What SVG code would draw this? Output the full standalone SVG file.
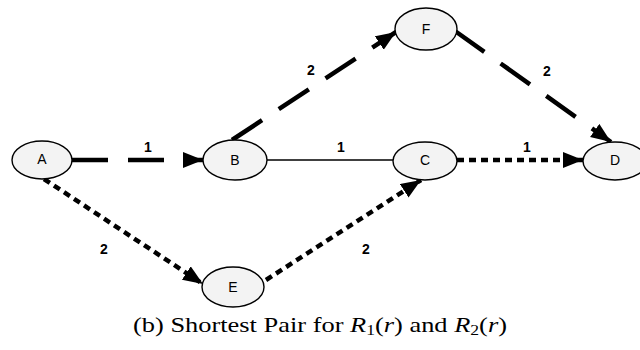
<svg xmlns="http://www.w3.org/2000/svg" width="640" height="350" viewBox="0 0 640 350">
<defs>
<marker id="arr" markerUnits="userSpaceOnUse" markerWidth="22" markerHeight="18" refX="20" refY="8" orient="auto">
<path d="M0,0 L20,8 L0,16 Z" fill="#000"/>
</marker>
<style>
.node ellipse{fill:#f3f3f3;stroke:#000;stroke-width:1.4}
.node text{font-family:"Liberation Sans",Arial,sans-serif;font-size:14px;text-anchor:middle;dominant-baseline:central}
.dash{stroke:#000;stroke-width:4.5;fill:none;stroke-dasharray:36 20;marker-end:url(#arr)}
.dot{stroke:#000;stroke-width:4.5;fill:none;stroke-dasharray:7 5;marker-end:url(#arr)}
.thin{stroke:#000;stroke-width:1.4;fill:none}
.lbl{font-family:"Liberation Sans",Arial,sans-serif;font-size:14px;font-weight:bold;text-anchor:middle}
.cap{font-family:"Liberation Serif","Times New Roman",serif;font-size:21px}
</style>
</defs>
<rect width="640" height="350" fill="#fff"/>
<g id="connectors">
<line class="dash" x1="72" y1="160" x2="203" y2="160"/>
<line class="dash" x1="232" y1="140" x2="396" y2="32"/>
<line class="dash" x1="455" y1="31" x2="611" y2="142"/>
<line class="thin" x1="267" y1="160" x2="393" y2="160"/>
<line class="dot" x1="457" y1="160" x2="583" y2="160"/>
<line class="dot" x1="44" y1="179" x2="203" y2="284"/>
<line class="dot" x1="266" y1="280" x2="421" y2="180"/>
<text class="lbl" x="148" y="152">1</text>
<text class="lbl" x="311" y="75">2</text>
<text class="lbl" x="547" y="76">2</text>
<text class="lbl" x="341" y="152">1</text>
<text class="lbl" x="527" y="152">1</text>
<text class="lbl" x="104" y="254">2</text>
<text class="lbl" x="366" y="254">2</text>
</g>
<g id="A" class="node"><ellipse cx="42" cy="160" rx="30" ry="19"/><text x="42" y="159">A</text></g>
<g id="B" class="node"><ellipse cx="235" cy="160" rx="32" ry="20"/><text x="235" y="160">B</text></g>
<g id="C" class="node"><ellipse cx="425" cy="161" rx="32" ry="19"/><text x="425" y="160">C</text></g>
<g id="D" class="node"><ellipse cx="615" cy="161" rx="32" ry="19"/><text x="615" y="160">D</text></g>
<g id="F" class="node"><ellipse cx="426" cy="29" rx="31" ry="21"/><text x="426" y="29">F</text></g>
<g id="E" class="node"><ellipse cx="233" cy="287" rx="31" ry="20"/><text x="233" y="287">E</text></g>
<text class="cap" x="133" y="332" textLength="374" lengthAdjust="spacingAndGlyphs">(b) Shortest Pair for <tspan font-style="italic">R</tspan><tspan font-size="14" dy="3">1</tspan><tspan dy="-3">(</tspan><tspan font-style="italic">r</tspan>) and <tspan font-style="italic">R</tspan><tspan font-size="14" dy="3">2</tspan><tspan dy="-3">(</tspan><tspan font-style="italic">r</tspan>)</text>
</svg>
